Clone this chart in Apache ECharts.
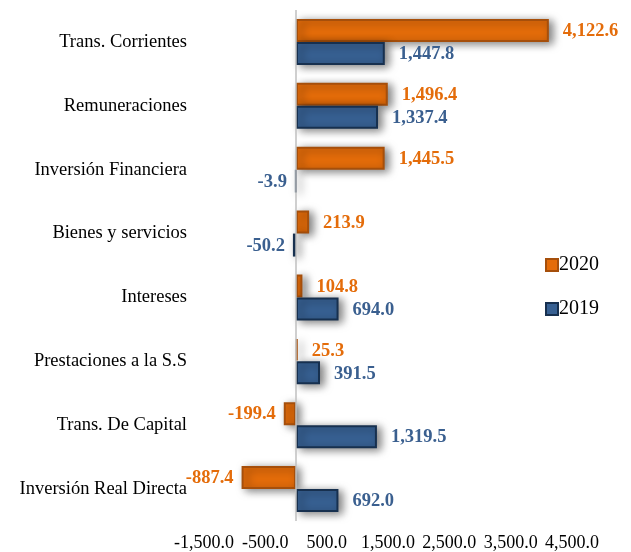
<!DOCTYPE html>
<html>
<head>
<meta charset="utf-8">
<script src="https://cdn.jsdelivr.net/npm/echarts@6/dist/echarts.min.js"></script>
<style>
  html, body { margin: 0; padding: 0; background: #fff; }
  #chart { width: 631px; height: 552px; }
</style>
</head>
<body>
<div id="chart"></div>
<script>
// datos
const categorias = ['Trans. Corrientes', 'Remuneraciones', 'Inversión Financiera', 'Bienes y servicios',
  'Intereses', 'Prestaciones a la S.S', 'Trans. De Capital', 'Inversión Real Directa'];
const valores2020 = [4122.6, 1496.4, 1445.5, 213.9, 104.8, 25.3, -199.4, -887.4];
const valores2019 = [1447.8, 1337.4, -3.9, -50.2, 694.0, 391.5, 1319.5, 692.0];
const ticksX = [-1500, -500, 500, 1500, 2500, 3500, 4500];

const fmt = v => v.toFixed(1).replace(/\B(?=(\d{3})+(?!\d))/g, ',');
const serif = '"Liberation Serif", "Times New Roman", serif';

const chart = echarts.init(document.getElementById('chart'));

// etiquetas a la derecha si es positivo, a la izquierda si es negativo
const conEtiquetas = (vals, color) => vals.map(v => ({
  value: v,
  label: {
    show: true,
    position: v < 0 ? 'left' : 'right',
    distance: v < 0 ? 8 : 14,
    offset: [0, 1],
    formatter: p => fmt(p.value),
    color: color,
    fontFamily: serif,
    fontWeight: 'bold',
    fontSize: 18.5
  }
}));

const sombra = {
  shadowColor: 'rgba(0,0,0,0.5)',
  shadowBlur: 8,
  shadowOffsetX: 4,
  shadowOffsetY: 2
};

const option = {
  animation: false,
  grid: { left: 204, right: 59, top: 10, bottom: 31, containLabel: false, outerBoundsMode: 'none' },
  legend: {
    orient: 'vertical',
    left: 540,
    top: 250,
    itemGap: 24,
    itemWidth: 12,
    itemHeight: 12,
    icon: 'rect',
    data: ['2020', '2019'],
    textStyle: { fontFamily: serif, fontSize: 20, color: '#000', padding: [0, 0, 0, -4] }
  },
  xAxis: {
    type: 'value',
    min: -1500,
    max: 4500,
    interval: 1000,
    axisLine: { show: false },
    axisTick: { show: false },
    splitLine: { show: false },
    axisLabel: {
      margin: 13,
      color: '#000',
      fontFamily: serif,
      fontSize: 18,
      formatter: v => ticksX.includes(v) ? fmt(v) : ''
    }
  },
  yAxis: {
    type: 'category',
    inverse: true,
    data: categorias,
    axisLine: { show: false, onZero: false },
    axisTick: { show: false },
    axisLabel: {
      margin: 17,
      color: '#000',
      fontFamily: serif,
      fontSize: 18.5,
      padding: [5, 0, 0, 0]
    }
  },
  series: [
    {
      name: '2020',
      type: 'bar',
      barWidth: 23,
      barGap: '0%',
      data: conEtiquetas(valores2020, '#E46C0A'),
      itemStyle: Object.assign({ color: '#E46C0A', borderColor: '#A64F0B', borderWidth: 2 }, sombra),
      markLine: {
        silent: true,
        symbol: 'none',
        label: { show: false },
        lineStyle: { color: '#BFBFBF', type: 'solid', width: 1.5 },
        data: [{ xAxis: 0 }]
      }
    },
    {
      name: '2019',
      type: 'bar',
      barWidth: 23,
      barGap: '0%',
      data: conEtiquetas(valores2019, '#3A5F8F'),
      itemStyle: Object.assign({ color: '#376092', borderColor: '#17304F', borderWidth: 2 }, sombra)
    }
  ]
};

chart.setOption(option);
</script>
</body>
</html>
